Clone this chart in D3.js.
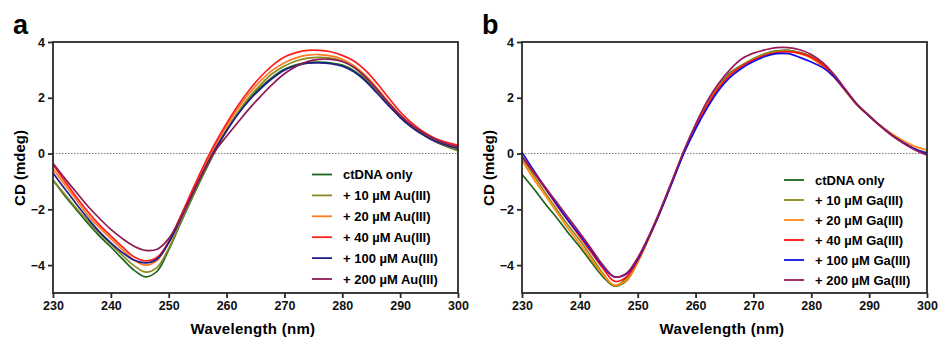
<!DOCTYPE html>
<html>
<head>
<meta charset="utf-8">
<script src="https://cdn.jsdelivr.net/npm/d3@7"></script>
<style>
  body { margin: 0; background: #fff; }
  svg { font-family: "Liberation Sans", Arial, sans-serif; }
  .tick text { font-weight: bold; font-size: 12.5px; fill: #111; }
</style>
</head>
<body>
<div id="chart"></div>
<script>
// wavelength grid (nm)
const wavelength = [230, 232, 234, 236, 238, 240, 242, 244, 246, 248, 250, 252, 254, 256, 258, 260, 262, 264,
   266, 268, 270, 272, 274, 276, 278, 280, 282, 284, 286, 288, 290, 292, 294, 296, 298, 300];

// panel a - Au(III)
const auCtdna = [-0.95, -1.5, -2.0, -2.5, -2.95, -3.35, -3.78, -4.18, -4.42, -4.22, -3.45, -2.52, -1.62, -0.75, 0.08, 0.82, 1.45, 1.98,
   2.4, 2.75, 3.02, 3.18, 3.27, 3.28, 3.25, 3.17, 2.97, 2.65, 2.22, 1.75, 1.3, 0.94, 0.66, 0.43, 0.25, 0.1];
const au10 = [-0.95, -1.45, -1.95, -2.42, -2.85, -3.25, -3.65, -4.02, -4.25, -4.08, -3.4, -2.48, -1.58, -0.7, 0.12, 0.86, 1.5, 2.04,
   2.5, 2.88, 3.14, 3.32, 3.42, 3.45, 3.42, 3.32, 3.08, 2.72, 2.25, 1.76, 1.32, 0.95, 0.67, 0.45, 0.27, 0.12];
const au20 = [-0.55, -1.1, -1.65, -2.2, -2.65, -3.05, -3.45, -3.82, -4.0, -3.83, -3.2, -2.32, -1.42, -0.55, 0.27, 0.98, 1.63, 2.18,
   2.63, 3.0, 3.26, 3.43, 3.53, 3.55, 3.5, 3.38, 3.15, 2.8, 2.35, 1.85, 1.4, 1.02, 0.72, 0.48, 0.32, 0.2];
const au40 = [-0.4, -0.98, -1.55, -2.08, -2.55, -2.95, -3.35, -3.7, -3.85, -3.72, -3.15, -2.27, -1.35, -0.45, 0.36, 1.08, 1.73, 2.3,
   2.78, 3.17, 3.46, 3.62, 3.7, 3.7, 3.65, 3.52, 3.32, 2.98, 2.52, 2.0, 1.5, 1.1, 0.78, 0.55, 0.4, 0.3];
const au100 = [-0.7, -1.25, -1.8, -2.32, -2.8, -3.2, -3.55, -3.82, -3.92, -3.78, -3.2, -2.37, -1.5, -0.63, 0.15, 0.82, 1.42, 1.93,
   2.35, 2.71, 2.99, 3.15, 3.24, 3.25, 3.22, 3.13, 2.93, 2.6, 2.17, 1.72, 1.3, 0.95, 0.68, 0.45, 0.3, 0.18];
const au200 = [-0.35, -0.88, -1.38, -1.88, -2.32, -2.72, -3.05, -3.32, -3.47, -3.43, -3.05, -2.33, -1.47, -0.65, 0.08, 0.62, 1.13, 1.63,
   2.08, 2.5, 2.86, 3.12, 3.3, 3.38, 3.38, 3.3, 3.1, 2.75, 2.3, 1.82, 1.38, 1.02, 0.75, 0.52, 0.35, 0.25];

// panel b - Ga(III)
const gaCtdna = [-0.75, -1.25, -1.8, -2.3, -2.85, -3.35, -3.9, -4.42, -4.75, -4.48, -3.78, -2.95, -2.02, -1.0, 0.05, 0.98, 1.78, 2.42,
   2.9, 3.17, 3.4, 3.58, 3.68, 3.7, 3.62, 3.48, 3.2, 2.75, 2.22, 1.72, 1.35, 0.98, 0.65, 0.38, 0.15, 0.02];
const ga10 = [-0.15, -0.78, -1.4, -2.0, -2.58, -3.12, -3.7, -4.3, -4.75, -4.58, -3.9, -3.0, -2.04, -1.0, 0.05, 0.97, 1.75, 2.4,
   2.87, 3.16, 3.4, 3.58, 3.67, 3.7, 3.62, 3.47, 3.2, 2.78, 2.25, 1.73, 1.35, 0.97, 0.64, 0.37, 0.15, 0.02];
const ga20 = [-0.25, -0.9, -1.5, -2.1, -2.7, -3.25, -3.8, -4.35, -4.72, -4.53, -3.88, -3.0, -2.03, -0.98, 0.04, 0.95, 1.73, 2.37,
   2.84, 3.13, 3.36, 3.53, 3.62, 3.65, 3.58, 3.42, 3.12, 2.72, 2.22, 1.72, 1.35, 1.0, 0.7, 0.45, 0.25, 0.13];
const ga40 = [-0.1, -0.68, -1.25, -1.85, -2.42, -2.98, -3.55, -4.12, -4.58, -4.43, -3.83, -2.98, -2.03, -0.98, 0.04, 0.93, 1.71, 2.35,
   2.82, 3.13, 3.35, 3.52, 3.62, 3.65, 3.6, 3.45, 3.18, 2.76, 2.25, 1.74, 1.35, 0.98, 0.65, 0.38, 0.15, 0.0];
const ga100 = [0.05, -0.6, -1.22, -1.82, -2.4, -2.92, -3.48, -4.05, -4.42, -4.33, -3.78, -2.96, -2.03, -1.0, 0.02, 0.88, 1.63, 2.27,
   2.74, 3.06, 3.3, 3.48, 3.58, 3.58, 3.45, 3.28, 3.08, 2.74, 2.25, 1.74, 1.35, 0.98, 0.65, 0.38, 0.15, 0.0];
const ga200 = [-0.1, -0.65, -1.2, -1.75, -2.3, -2.85, -3.42, -4.0, -4.42, -4.3, -3.73, -2.92, -1.97, -0.93, 0.12, 1.05, 1.88, 2.52,
   3.02, 3.4, 3.6, 3.72, 3.8, 3.8, 3.72, 3.55, 3.26, 2.82, 2.28, 1.75, 1.36, 0.98, 0.64, 0.36, 0.12, -0.05];

const auLabels = ["ctDNA only", "+ 10 \u00b5M Au(III)", "+ 20 \u00b5M Au(III)", "+ 40 \u00b5M Au(III)", "+ 100 \u00b5M Au(III)", "+ 200 \u00b5M Au(III)"];
const gaLabels = ["ctDNA only", "+ 10 \u00b5M Ga(III)", "+ 20 \u00b5M Ga(III)", "+ 40 \u00b5M Ga(III)", "+ 100 \u00b5M Ga(III)", "+ 200 \u00b5M Ga(III)"];
const xTicks = [230, 240, 250, 260, 270, 280, 290, 300];
const yTicks = [-4, -2, 0, 2, 4];

const auColors = ["#1a641a", "#8a8a22", "#ff7a1e", "#ff1e1e", "#1e1e8c", "#8c1a55"];
const gaColors = ["#1a641a", "#8a8a22", "#ff8a10", "#ff1010", "#1010e6", "#9a1a5a"];

// sizes
const wide = 939;
const high = 339;
const plotW = 405;
const plotTop = 42;
const plotBottom = 293;

var svg = d3
   .select("#chart")
   .append("svg")
   .attr("width", wide)
   .attr("height", high);

svg.append("rect").attr("width", wide).attr("height", high).attr("fill", "#fff");

function drawPanel(left, letter, series, labels, colors, legX, legY, legStep) {
   const x = d3.scaleLinear().domain([230, 300]).range([left, left + plotW]);
   const y = d3.scaleLinear().domain([-5, 4]).range([plotBottom, plotTop]);

   // zero line
   svg.append("line")
      .attr("x1", x(230))
      .attr("x2", x(300))
      .attr("y1", y(0))
      .attr("y2", y(0))
      .attr("stroke", "#777")
      .attr("stroke-width", 1)
      .attr("stroke-dasharray", "1.5,1.5");

   const line = d3
      .line()
      .x((d, i) => x(wavelength[i]))
      .y((d) => y(d))
      .curve(d3.curveCatmullRom.alpha(0.5));

   series.forEach((s, i) => {
      svg.append("path")
         .attr("d", line(s))
         .attr("fill", "none")
         .attr("stroke", colors[i])
         .attr("stroke-width", 1.7);
   });

   // frame
   svg.append("rect")
      .attr("x", x(230))
      .attr("y", plotTop)
      .attr("width", plotW)
      .attr("height", plotBottom - plotTop)
      .attr("fill", "none")
      .attr("stroke", "#2a2a2a")
      .attr("stroke-width", 1.8);

   svg.append("g")
      .attr("transform", "translate(0," + plotBottom + ")")
      .call(d3.axisBottom(x).tickValues(xTicks).tickFormat(d3.format("d")).tickSize(5).tickPadding(3))
      .call((g) => g.select(".domain").remove())
      .call((g) => g.selectAll("line").attr("stroke", "#2a2a2a").attr("stroke-width", 1.8));

   svg.append("g")
      .attr("transform", "translate(" + left + ",0)")
      .call(d3.axisLeft(y).tickValues(yTicks).tickSize(5).tickPadding(3))
      .call((g) => g.select(".domain").remove())
      .call((g) => g.selectAll("line").attr("stroke", "#2a2a2a").attr("stroke-width", 1.8));

   // axis titles
   svg.append("text")
      .attr("x", left + 200)
      .attr("y", 334)
      .attr("text-anchor", "middle")
      .attr("font-weight", "bold")
      .attr("font-size", "15px")
      .attr("letter-spacing", "0.3px")
      .text("Wavelength (nm)");

   svg.append("text")
      .attr("transform", "rotate(-90)")
      .attr("x", -168)
      .attr("y", left - 28)
      .attr("text-anchor", "middle")
      .attr("font-weight", "bold")
      .attr("font-size", "15px")
      .text("CD (mdeg)");

   // panel letter
   svg.append("text")
      .attr("x", left - 40)
      .attr("y", 34)
      .attr("font-weight", "bold")
      .attr("font-size", "27px")
      .text(letter);

   // legend
   labels.forEach((lab, i) => {
      const ly = legY + i * legStep;
      svg.append("line")
         .attr("x1", legX)
         .attr("x2", legX + 20)
         .attr("y1", ly)
         .attr("y2", ly)
         .attr("stroke", colors[i])
         .attr("stroke-width", 1.8);
      svg.append("text")
         .attr("x", legX + 31)
         .attr("y", ly + 4.5)
         .attr("font-weight", "bold")
         .attr("font-size", "13px")
         .text(lab);
   });
}

drawPanel(53, "a", [auCtdna, au10, au20, au40, au100, au200], auLabels, auColors, 312, 174.5, 20.9);
drawPanel(522, "b", [gaCtdna, ga10, ga20, ga40, ga100, ga200], gaLabels, gaColors, 784, 180, 20);
</script>
</body>
</html>
